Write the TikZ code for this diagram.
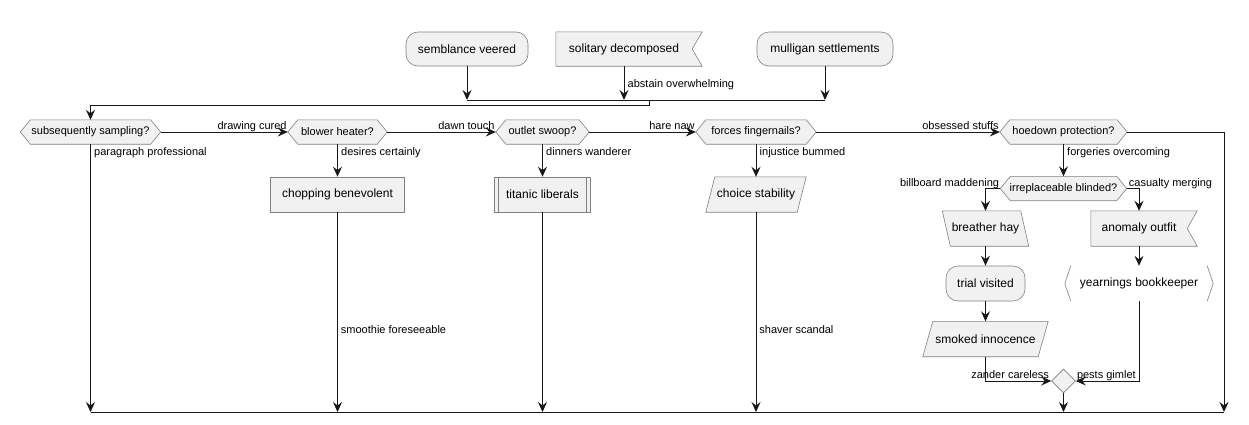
\documentclass[tikz,border=0pt]{standalone}
\usepackage{fontspec}
\setmainfont{Liberation Sans}
\usetikzlibrary{arrows.meta,shapes.geometric,backgrounds,calc}
\definecolor{boxfill}{HTML}{F1F1F1}
\definecolor{ink}{HTML}{181818}
\definecolor{rim}{HTML}{808080}

% outlines drawn behind a named node
\newcommand{\hexframe}[1]{\path[shapeline] (#1.west) -- ([xshift=10pt]#1.north west) -- ([xshift=-10pt]#1.north east) -- (#1.east) -- ([xshift=-10pt]#1.south east) -- ([xshift=10pt]#1.south west) -- cycle;}
\newcommand{\flagframe}[1]{\path[shapeline] (#1.north west) -- ([xshift=10pt]#1.north east) -- (#1.east) -- ([xshift=10pt]#1.south east) -- (#1.south west) -- cycle;}
\newcommand{\fwdframe}[2]{\path[shapeline] ([xshift=#2]#1.north west) -- (#1.north east) -- ([xshift=-#2]#1.south east) -- (#1.south west) -- cycle;}
\newcommand{\backframe}[2]{\path[shapeline] (#1.north west) -- ([xshift=-#2]#1.north east) -- (#1.south east) -- ([xshift=#2]#1.south west) -- cycle;}

\begin{document}
\begin{tikzpicture}[x=1pt,y=-1pt,
  body/.style={inner sep=0pt, minimum height=35pt, font=\fontsize{12}{14}\selectfont, text=black},
  shapeline/.style={draw=rim, line width=0.6pt, fill=boxfill},
  roundbox/.style={body, shapeline, rounded corners=12pt},
  plainbox/.style={body, shapeline},
  decide/.style={body, minimum height=24pt, font=\fontsize{11}{13}\selectfont},
  merge/.style={diamond, shapeline, inner sep=0pt, minimum width=24pt, minimum height=24pt},
  wire/.style={draw=ink, line width=0.9pt},
  flow/.style={wire, -{Stealth[length=10pt,width=9pt,inset=3.5pt]}},
  lbl/.style={font=\fontsize{11}{13}\selectfont, inner sep=0pt, text=black}]
\useasboundingbox (0,0) rectangle (1249,424);

% start row
\node[roundbox, minimum width=122pt, minimum height=34pt] (n1) at (467,49) {semblance veered};
\node[body, minimum width=136pt, minimum height=34pt] (n2) at (624,49) {solitary decomposed};
\node[roundbox, minimum width=136pt, minimum height=34pt] (n3) at (825,49) {mulligan settlements};

% decision chain
\node[decide, minimum width=140pt] (d1) at (90.5,132) {subsequently sampling?};
\node[decide, minimum width=99pt] (d2) at (337.5,132) {blower heater?};
\node[decide, minimum width=93pt] (d3) at (542.5,132) {outlet swoop?};
\node[decide, minimum width=120pt] (d4) at (756,132) {forces fingernails?};
\node[decide, minimum width=127pt] (d5) at (1063.5,132) {hoedown protection?};
\node[decide, minimum width=126pt] (d6) at (1063.5,188.5) {irreplaceable blinded?};

% actions
\node[plainbox, minimum width=134pt] (b1) at (337.5,194.5) {chopping benevolent};
\node[plainbox, minimum width=96pt] (b2) at (542.5,194.5) {titanic liberals};
\node[body, minimum width=100pt] (b3) at (756,194.5) {choice stability};
\node[body, minimum width=86pt] (b4) at (985.5,228.5) {breather hay};
\node[body, minimum width=96pt] (b5) at (1139,228.5) {anomaly outfit};
\node[roundbox, minimum width=79pt] (b6) at (985.5,283.5) {trial visited};
\node[body, minimum width=148pt] (b7) at (1139,283.5) {yearnings bookkeeper};
\node[body, minimum width=125pt] (b8) at (985.5,339) {smoked innocence};
\node[merge] (m) at (1063.5,381) {};

\begin{scope}[on background layer]
  \flagframe{n2}
  \hexframe{d1} \hexframe{d2} \hexframe{d3}
  \hexframe{d4} \hexframe{d5} \hexframe{d6}
  \fwdframe{b3}{9pt}
  \backframe{b4}{8pt}
  \flagframe{b5}
  \fwdframe{b8}{10pt}
\end{scope}

% side bars of the subroutine box and brackets of the open box
\draw[rim, line width=0.6pt] ([xshift=4.5pt]b2.north west) -- ([xshift=4.5pt]b2.south west)
  ([xshift=-4.5pt]b2.north east) -- ([xshift=-4.5pt]b2.south east);
\draw[rim, line width=0.6pt] ([xshift=6pt]b7.north west) -- (b7.west) -- ([xshift=6pt]b7.south west)
  ([xshift=-6pt]b7.north east) -- (b7.east) -- ([xshift=-6pt]b7.south east);

% junction points
\coordinate (jbar) at (649,100);
\coordinate (bot) at (0,412);
\coordinate (rcol) at (1224,412);

% top merge
\draw[flow] (n1.south) -- (n1.south |- jbar);
\draw[flow] (n2.south) -- (n2.south |- jbar);
\draw[flow] (n3.south) -- (n3.south |- jbar);
\node[lbl, anchor=base west] at ([xshift=3.5pt,yshift=-21.5pt]n2.south) {abstain overwhelming};
\draw[wire] (n1.south |- jbar) -- (n3.south |- jbar);
\draw[flow] (jbar) -- ++(0,5) -| (d1.north);

% decision chain
\draw[flow] (d1.east) -- (d2.west);
\node[lbl, anchor=base east] at ([xshift=-1pt,yshift=2.7pt]d2.west) {drawing cured};
\draw[flow] (d2.east) -- (d3.west);
\node[lbl, anchor=base east] at ([xshift=-1pt,yshift=2.7pt]d3.west) {dawn touch};
\draw[flow] (d3.east) -- (d4.west);
\node[lbl, anchor=base east] at ([xshift=-1pt,yshift=2.7pt]d4.west) {hare naw};
\draw[flow] (d4.east) -- (d5.west);
\node[lbl, anchor=base east] at ([xshift=-1pt,yshift=2.7pt]d5.west) {obsessed stuffs};
\draw[flow] (d5.east) -| (rcol);

% downward branches
\draw[flow] (d1.south) -- (d1.south |- bot);
\node[lbl, anchor=base west] at ([xshift=3.5pt,yshift=-11.5pt]d1.south) {paragraph professional};
\draw[flow] (d2.south) -- (b1.north);
\node[lbl, anchor=base west] at ([xshift=3.5pt,yshift=-11.5pt]d2.south) {desires certainly};
\draw[flow] (d3.south) -- (b2.north);
\node[lbl, anchor=base west] at ([xshift=3.5pt,yshift=-11.5pt]d3.south) {dinners wanderer};
\draw[flow] (d4.south) -- (b3.north);
\node[lbl, anchor=base west] at ([xshift=3.5pt,yshift=-11.5pt]d4.south) {injustice bummed};
\draw[flow] (d5.south) -- (d6.north);
\node[lbl, anchor=base west] at ([xshift=3.5pt,yshift=-11.5pt]d5.south) {forgeries overcoming};

\draw[flow] (b1.south) -- node[lbl, anchor=west, pos=0.585, xshift=3pt] {smoothie foreseeable} (b1.south |- bot);
\draw[flow] (b2.south) -- (b2.south |- bot);
\draw[flow] (b3.south) -- node[lbl, anchor=west, pos=0.585, xshift=3pt] {shaver scandal} (b3.south |- bot);

% inner split
\draw[flow] (d6.west) -| (b4.north);
\node[lbl, anchor=base east] at ([xshift=-1pt,yshift=2.5pt]d6.west) {billboard maddening};
\draw[flow] (d6.east) -| (b5.north);
\node[lbl, anchor=base west] at ([xshift=2pt,yshift=2.5pt]d6.east) {casualty merging};
\draw[flow] (b4.south) -- (b6.north);
\draw[flow] (b6.south) -- (b8.north);
\draw[flow] (b5.south) -- (b7.north);
\draw[flow] (b8.south) |- (m.west);
\node[lbl, anchor=base east] at ([xshift=-2pt,yshift=3pt]m.west) {zander careless};
\draw[flow] (b7.south) |- (m.east);
\node[lbl, anchor=base west] at ([xshift=1pt,yshift=3pt]m.east) {pests gimlet};
\draw[flow] (m.south) -- (m.south |- bot);

% closing bar
\draw[wire] (d1.south |- bot) -- (rcol);
\end{tikzpicture}
\end{document}
